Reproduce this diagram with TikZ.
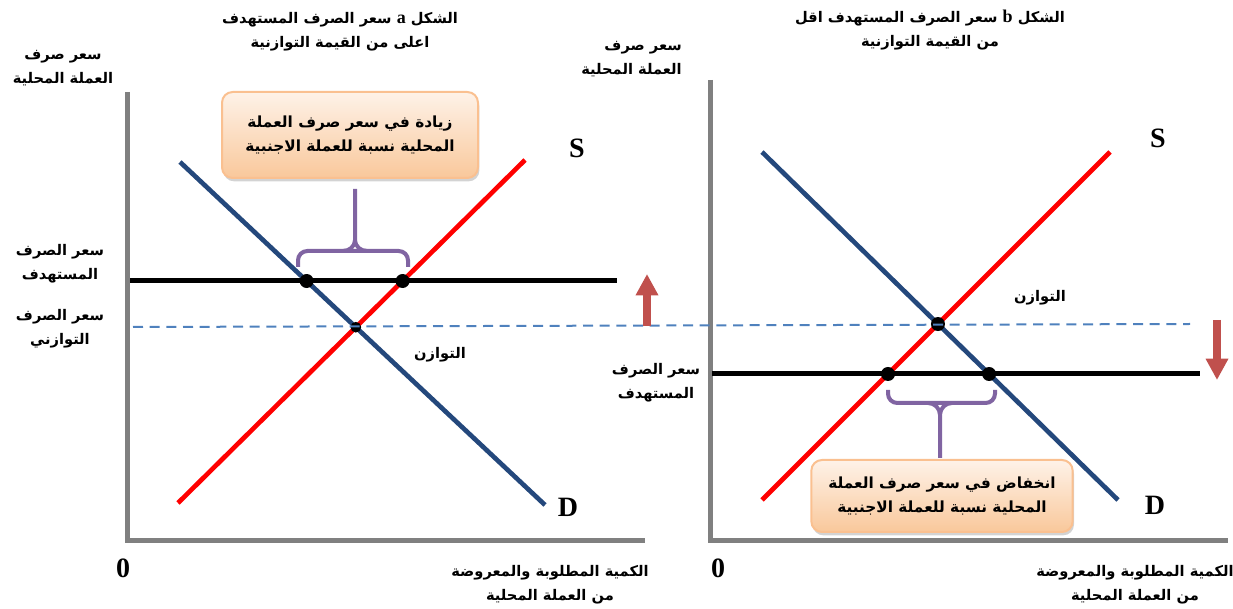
\documentclass[tikz,border=0pt]{standalone}
\usepackage{fontspec}
\setmainfont{Liberation Serif}
\newfontfamily\arabicfont[Script=Arabic]{DejaVu Sans}
\TeXXeTstate=1
\usetikzlibrary{arrows.meta,shadows,intersections}
\newcommand\rtl[1]{\beginR #1\endR}
\newcommand\ltr[1]{\beginL #1\endL{}}
\newcommand\latinletter[1]{{\rmfamily\bfseries\fontsize{13.5}{13.5}\selectfont #1}}
\definecolor{axisgray}{RGB}{128,128,128}
\definecolor{blueD}{RGB}{36,72,124}
\definecolor{dashblue}{RGB}{79,129,189}
\definecolor{arrowred}{RGB}{192,80,77}
\definecolor{bracepurple}{RGB}{128,100,162}
\definecolor{boxorange}{RGB}{250,192,144}
\definecolor{boxtop}{RGB}{254,242,232}
\definecolor{boxbottom}{RGB}{249,200,155}
\tikzset{
  ar/.style={font=\arabicfont\bfseries\fontsize{11}{18}\selectfont, align=center, inner sep=0pt},
  lat/.style={font=\bfseries\fontsize{21}{24}\selectfont, inner sep=0pt},
  axisline/.style={line width=3.75pt, draw=axisgray},
  supply/.style={line width=3.5pt, draw=red},
  demand/.style={line width=3.5pt, draw=blueD},
  target/.style={line width=3.75pt, draw=black},
  eqdash/.style={dash pattern=on 7.5pt off 5pt, line width=1.5pt, draw=dashblue},
  dot/.style={circle, fill=black, inner sep=0pt, minimum size=10.5pt},
  smalldot/.style={circle, fill=black, inner sep=0pt, minimum size=8pt},
  brace/.style={line width=3pt, draw=bracepurple, rounded corners=7pt},
  callout/.style={rounded corners=8pt, draw=boxorange, line width=1.5pt,
    top color=boxtop, bottom color=boxbottom,
    drop shadow={shadow xshift=1pt, shadow yshift=-2.5pt, opacity=0.35}},
  movearrow/.style={line width=5.5pt, draw=arrowred, -{Triangle[width=16pt,length=16pt]}}
}
\begin{document}
\begin{tikzpicture}[x=0.75pt,y=-0.75pt]
\useasboundingbox (0,0) rectangle (1233,609);
% ---------- panel a ----------
\draw[axisline] (127,92) -- (127,541) -- (645,541);
\path[name path=Da] (180,162) coordinate (Da1) -- (545,505) coordinate (Da2);
\path[name path=Sa] (178,503) coordinate (Sa1) -- (525,160) coordinate (Sa2);
\path[name path=Ta] (130,281) coordinate (Ta1) -- (617,281) coordinate (Ta2);
\draw[demand] (Da1) -- (Da2);
\draw[supply] (Sa1) -- (Sa2);
\draw[target] (Ta1) -- (Ta2);
\path[name intersections={of=Da and Ta, by={pA1}}];
\path[name intersections={of=Sa and Ta, by={pA2}}];
\path[name intersections={of=Da and Sa, by={pA0}}];
\node[smalldot] (eqA) at (pA0) {};
% ---------- panel b ----------
\draw[axisline] (710,80) -- (710,541) -- (1228,541);
\path[name path=Db] (762,152) coordinate (Db1) -- (1118,500) coordinate (Db2);
\path[name path=Sb] (762,500) coordinate (Sb1) -- (1110,152) coordinate (Sb2);
\path[name path=Tb] (712,374) coordinate (Tb1) -- (1200,374) coordinate (Tb2);
\draw[demand] (Db1) -- (Db2);
\draw[supply] (Sb1) -- (Sb2);
\draw[target] (Tb1) -- (Tb2);
\path[name intersections={of=Db and Tb, by={pB1}}];
\path[name intersections={of=Sb and Tb, by={pB2}}];
\path[name intersections={of=Db and Sb, by={pB0}}];
\node[dot] (eqB) at (pB0) {};
% shared equilibrium dashed line
\coordinate (E1) at (133,327);
\coordinate (E2) at (1190,324);
\draw[eqdash] (E1) -- (E2);
\node[dot] (dA1) at (pA1) {};
\node[dot] (dA2) at (pA2) {};
\node[dot] (dB1) at (pB1) {};
\node[dot] (dB2) at (pB2) {};
% brace a
\coordinate (bA1) at (298,267);
\coordinate (bA2) at (408,267);
\coordinate (bAc) at (355,251);
\coordinate (bAt) at (355,189);
\draw[brace] (bA1) -- (298,251) -- (bAc) -- (408,251) -- (bA2);
\draw[line width=3pt, draw=bracepurple] (343,251) to[out=0,in=-90] (bAt |- 0,240) -- (bAt) (367,251) to[out=180,in=-90] (bAt |- 0,240);
\node[callout, minimum width=192pt, minimum height=64.5pt, ar, font=\arabicfont\bfseries\fontsize{11.5}{18}\selectfont] (boxA) at (350,135)
  {\rtl{زيادة في سعر صرف العملة}\\\rtl{المحلية نسبة  للعملة الاجنبية}};
% arrow up
\coordinate (arA1) at (647,326);
\coordinate (arA2) at (647,274);
\draw[movearrow] (arA1) -- (arA2);
% labels a
\node[ar] (titleA) at (340,32)
  {\rtl{الشكل \ltr{\latinletter{a}} سعر الصرف المستهدف}\\\rtl{اعلى من القيمة التوازنية}};
\node[ar] (ylabA) at (63,68) {\rtl{سعر صرف}\\\rtl{العملة المحلية}};
\node[ar] (tgtA) at (60,264) {\rtl{سعر الصرف}\\\rtl{المستهدف}};
\node[ar] (eqlA) at (60,329) {\rtl{سعر الصرف}\\\rtl{التوازني}};
\node[ar] (eqtA) at (440,355) {\rtl{التوازن}};
\node[ar] (xlabA) at (550,585) {\rtl{الكمية المطلوبة والمعروضة}\\\rtl{من العملة المحلية}};
\node[lat] (SA) at (577,148) {S};
\node[lat] (DA) at (568,507) {D};
\node[lat] (zA) at (123,568) {0};
% brace b
\coordinate (bB1) at (888,390);
\coordinate (bB2) at (995,390);
\coordinate (bBc) at (940,403);
\coordinate (bBt) at (940,458);
\draw[brace] (bB1) -- (888,403) -- (bBc) -- (995,403) -- (bB2);
\draw[line width=3pt, draw=bracepurple] (928,403) to[out=0,in=90] (bBt |- 0,415) -- (bBt) (952,403) to[out=180,in=90] (bBt |- 0,415);
\node[callout, minimum width=196pt, minimum height=54pt, ar, font=\arabicfont\bfseries\fontsize{11.5}{18}\selectfont] (boxB) at (942,496)
  {\rtl{انخفاض في سعر صرف العملة}\\\rtl{المحلية نسبة  للعملة الاجنبية}};
% arrow down
\coordinate (arB1) at (1217,320);
\coordinate (arB2) at (1217,380);
\draw[movearrow] (arB1) -- (arB2);
% labels b
\node[ar] (titleB) at (930,30)
  {\rtl{الشكل \ltr{\latinletter{b}} سعر الصرف المستهدف اقل}\\\rtl{من القيمة التوازنية}};
\node[ar, align=right, anchor=east] (ylabB) at (682,59) {\rtl{سعر صرف}\\\rtl{العملة المحلية}};
\node[ar] (tgtB) at (656,383) {\rtl{سعر الصرف}\\\rtl{المستهدف}};
\node[ar] (eqtB) at (1040,298) {\rtl{التوازن}};
\node[ar] (xlabB) at (1135,585) {\rtl{الكمية المطلوبة والمعروضة}\\\rtl{من العملة المحلية}};
\node[lat] (SB) at (1158,138) {S};
\node[lat] (DB) at (1155,505) {D};
\node[lat] (zB) at (718,568) {0};
\end{tikzpicture}
\end{document}
